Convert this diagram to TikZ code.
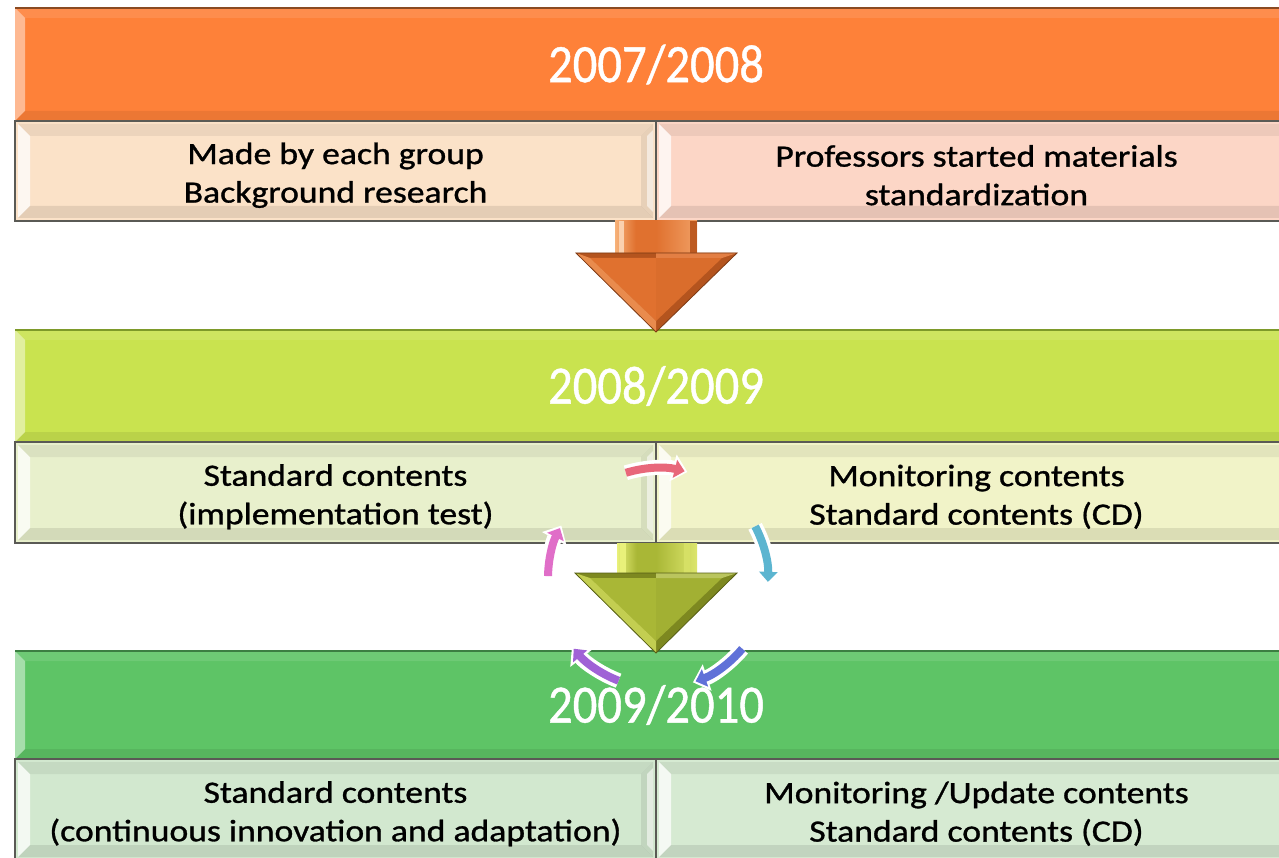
\documentclass[tikz,border=0pt]{standalone}
\usepackage{fontspec}
\setmainfont[FakeStretch=1.15,FakeBold=1]{Carlito}
\newfontfamily\hdrfont[FakeStretch=0.9,FakeBold=0.8]{Carlito}
\usetikzlibrary{arrows.meta}
\newcommand\lnup{\rule{0pt}{30pt}}
\definecolor{orH}{HTML}{FE8139}
\definecolor{orHb}{HTML}{8A4A22}
\definecolor{orL}{HTML}{FBE2C8}
\definecolor{orR}{HTML}{FCD6C6}
\definecolor{liH}{HTML}{C9E34F}
\definecolor{liHb}{HTML}{7E9A2A}
\definecolor{liL}{HTML}{E8F0CC}
\definecolor{liR}{HTML}{F1F3C8}
\definecolor{grH}{HTML}{5EC466}
\definecolor{grHb}{HTML}{3C7E42}
\definecolor{grL}{HTML}{D2E8CF}
\definecolor{grR}{HTML}{D6EAD2}
\definecolor{subB}{HTML}{5A5A55}
\definecolor{oA}{HTML}{E0712F}
\definecolor{oAd}{HTML}{B4541E}
\definecolor{oAl}{HTML}{F7B27A}
\definecolor{gA}{HTML}{A9B736}
\definecolor{gAd}{HTML}{7D8820}
\definecolor{gAl}{HTML}{E9F17A}
\definecolor{cRed}{HTML}{E8677A}
\definecolor{cCyan}{HTML}{5CB5D0}
\definecolor{cBlue}{HTML}{6071D8}
\definecolor{cPurp}{HTML}{A062D6}
\definecolor{cMag}{HTML}{E06EC8}
\tikzset{
  boxbase/.style={anchor=north west, inner sep=0pt, outer sep=0pt, align=center},
  hdrbox/.style={boxbase, minimum width=1282pt, text=white,
    font=\hdrfont\fontsize{54}{60}\selectfont,
    path picture={
      \fill[white,opacity=0.45] (path picture bounding box.north west) -- ([shift={(10pt,-10pt)}]path picture bounding box.north west) -- ([shift={(10pt,10pt)}]path picture bounding box.south west) -- (path picture bounding box.south west) -- cycle;
      \fill[white,opacity=0.10] (path picture bounding box.north west) -- (path picture bounding box.north east) -- ([shift={(-10pt,-10pt)}]path picture bounding box.north east) -- ([shift={(10pt,-10pt)}]path picture bounding box.north west) -- cycle;
      \fill[black,opacity=0.07] (path picture bounding box.south west) -- (path picture bounding box.south east) -- ([shift={(-10pt,10pt)}]path picture bounding box.south east) -- ([shift={(10pt,10pt)}]path picture bounding box.south west) -- cycle;
    }},
  subbox/.style={boxbase, minimum width=641pt, text=black, draw=subB, line width=1.6pt,
    font=\fontsize{31}{38.5}\selectfont,
    path picture={
      \fill[white,opacity=0.75] ([shift={(3pt,-3pt)}]path picture bounding box.north west) -- ([shift={(15pt,-15pt)}]path picture bounding box.north west) -- ([shift={(15pt,15pt)}]path picture bounding box.south west) -- ([shift={(3pt,3pt)}]path picture bounding box.south west) -- cycle;
      \fill[black,opacity=0.06] ([shift={(3pt,-3pt)}]path picture bounding box.north west) -- ([shift={(-3pt,-3pt)}]path picture bounding box.north east) -- ([shift={(-15pt,-15pt)}]path picture bounding box.north east) -- ([shift={(15pt,-15pt)}]path picture bounding box.north west) -- cycle;
      \fill[black,opacity=0.09] ([shift={(3pt,3pt)}]path picture bounding box.south west) -- ([shift={(-3pt,3pt)}]path picture bounding box.south east) -- ([shift={(-15pt,15pt)}]path picture bounding box.south east) -- ([shift={(15pt,15pt)}]path picture bounding box.south west) -- cycle;
      \fill[black,opacity=0.08] ([shift={(-3pt,-3pt)}]path picture bounding box.north east) -- ([shift={(-15pt,-15pt)}]path picture bounding box.north east) -- ([shift={(-15pt,15pt)}]path picture bounding box.south east) -- ([shift={(-3pt,3pt)}]path picture bounding box.south east) -- cycle;
      \fill[white,opacity=0.55] ([shift={(-9pt,-15pt)}]path picture bounding box.north east) -- ([shift={(-3pt,-9pt)}]path picture bounding box.north east) -- ([shift={(-3pt,9pt)}]path picture bounding box.south east) -- ([shift={(-9pt,15pt)}]path picture bounding box.south east) -- cycle;
    }},
  halo/.style={white, line width=15pt, -{Triangle[length=15pt,width=27pt]}},
  cyc/.style={line width=8pt, -{Triangle[length=10pt,width=18pt]}},
}
\begin{document}
\begin{tikzpicture}[x=1pt,y=-1pt]
\useasboundingbox (0,0) rectangle (1279,858);
\clip (0,0) rectangle (1279,858);
\fill[white] (0,0) rectangle (1279,858);

% ---- block 1
\node[hdrbox, fill=orH, minimum height=113pt] (h1) at (15,8) {2007/2008};
\draw[orHb, line width=1.4pt] (h1.north west) -- (h1.north east);
\node[subbox, fill=orL, minimum height=100pt] (s1l) at (15,121) {\lnup Made by each group\\Background research};
\node[subbox, fill=orR, minimum height=100pt] (s1r) at (656,121) {\lnup Professors started materials\\standardization};

% ---- block 2
\node[hdrbox, fill=liH, minimum height=112pt] (h2) at (15,330) {2008/2009};
\draw[liHb, line width=1.2pt] (h2.north west) -- (h2.north east);
\node[subbox, fill=liL, minimum height=101pt] (s2l) at (15,442) {\lnup Standard contents\\(implementation test)};
\node[subbox, fill=liR, minimum height=101pt] (s2r) at (656,442) {\lnup Monitoring contents\\Standard contents (CD)};

% ---- block 3
\node[hdrbox, fill=grH, minimum height=108pt] (h3) at (15,651) {2009/2010};
\draw[grHb, line width=1.2pt] (h3.north west) -- (h3.north east);
\node[subbox, fill=grL, minimum height=101pt] (s3l) at (15,759) {\lnup Standard contents\\(continuous innovation and adaptation)};
\node[subbox, fill=grR, minimum height=101pt] (s3r) at (656,759) {\lnup Monitoring /Update contents\\Standard contents (CD)};

% ---- orange down arrow
\coordinate (oa) at (656,332);
\shade[left color=oAl, right color=oA, middle color=oA] (615,221) rectangle (656,254);
\shade[left color=oA, right color=oAl!70!oA] (656,221) rectangle (697,254);
\fill[oAl!60!white] (619,221) rectangle (624,254);
\fill[oAd!80!oA] (690,221) rectangle (697,254);
\fill[oAd] (576,253) -- (737,253) -- (oa) -- cycle;
\fill[oA] (590,258) -- (656,258) -- (656,321) -- cycle;
\fill[oA!85!oAd] (656,258) -- (722,258) -- (656,321) -- cycle;
\fill[oAl!40!oA] (590,258) -- (656,321) -- (656,332) -- (576,253) -- cycle;
\fill[oA!90!white] (656,258) -- (722,258) -- (737,253) -- (656,253) -- cycle;
\draw[oAd!70!black, line width=0.8pt] (576,253) -- (737,253) -- (oa) -- cycle;

% ---- olive down arrow
\coordinate (ga) at (656,653);
\shade[left color=gAl, right color=gA, middle color=gA] (617,543) rectangle (656,574);
\shade[left color=gA, right color=gAl!80!gA] (656,543) rectangle (697,574);
\fill[gAl] (620,543) rectangle (626,574);
\fill[gAl!70!gA] (684,543) rectangle (690,574);
\fill[gAd] (575,573) -- (737,573) -- (ga) -- cycle;
\fill[gA] (590,578) -- (656,578) -- (656,641) -- cycle;
\fill[gA!85!gAd] (656,578) -- (722,578) -- (656,641) -- cycle;
\fill[gAl!40!gA] (590,578) -- (656,641) -- (656,653) -- (575,573) -- cycle;
\fill[gA!80!white] (656,578) -- (722,578) -- (737,573) -- (656,573) -- cycle;
\draw[gAd!70!black, line width=0.8pt] (575,573) -- (737,573) -- (ga) -- cycle;

% ---- cycle arrows
\coordinate (cc) at (658,578);
\foreach \a/\b/\c in {-107/-76/cRed, -28/2/cCyan, 40/70/cBlue, 111/140/cPurp, -179/-153/cMag}{
  \draw[halo] (cc) ++(\a:110) arc[start angle=\a, end angle=\b+1.5, radius=110];
  \draw[cyc, draw=\c, fill=\c] (cc) ++(\a:110) arc[start angle=\a, end angle=\b, radius=110];
}
\end{tikzpicture}
\end{document}
